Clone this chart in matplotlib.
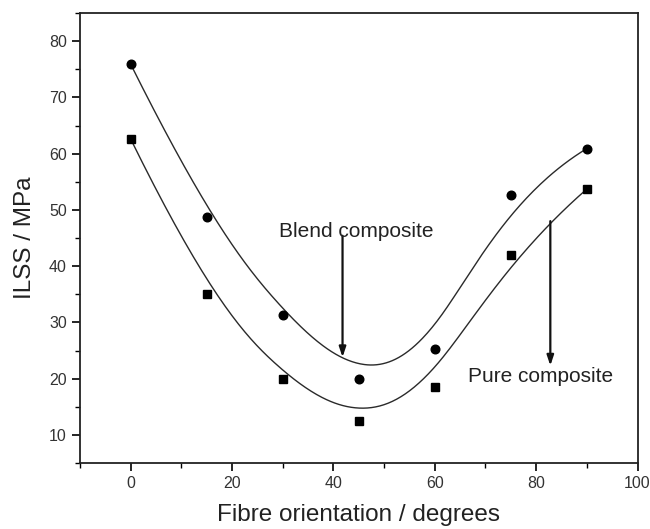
import numpy as np
import matplotlib
matplotlib.use("Agg")
import matplotlib.pyplot as plt
from matplotlib.ticker import MultipleLocator

# Data
angle = [0, 15, 30, 45, 60, 75, 90]
blend_ilss = [75.9, 48.8, 31.3, 19.9, 25.2, 52.7, 60.9]
pure_ilss = [62.6, 35.1, 20.0, 12.5, 18.6, 41.9, 53.7]


def bspline(xs, ys, n=300, k=3):
    """Clamped uniform B-spline using the data points as control points."""
    P = np.column_stack([xs, ys]).astype(float)
    m = len(P)
    inner = np.arange(1, m - k)
    knots = np.concatenate([np.zeros(k + 1), inner, np.full(k + 1, m - k)]).astype(float)
    ts = np.linspace(0, m - k, n)
    out = []
    for t in ts:
        if t >= knots[-1]:
            j = m - 1
        else:
            j = np.searchsorted(knots, t, side="right") - 1
        d = [P[j - k + i].copy() for i in range(k + 1)]
        for r in range(1, k + 1):
            for i in range(k, r - 1, -1):
                idx = j - k + i
                denom = knots[idx + k + 1 - r] - knots[idx]
                a = 0.0 if denom == 0 else (t - knots[idx]) / denom
                d[i] = (1 - a) * d[i - 1] + a * d[i]
        out.append(d[k])
    out = np.array(out)
    return out[:, 0], out[:, 1]


plt.rcParams['font.family'] = ['Liberation Sans', 'DejaVu Sans']
fig = plt.figure(figsize=(6.5, 5.29), dpi=100)
ax = fig.add_axes([80 / 650, 1 - 463 / 529, (637.5 - 80) / 650, (463 - 13) / 529])

bx, by = bspline(angle, blend_ilss)
px, py = bspline(angle, pure_ilss)
ax.plot(bx, by, color='#2a2a2a', lw=1.0)
ax.plot(px, py, color='#2a2a2a', lw=1.0)
ax.plot(angle, blend_ilss, 'o', color='black', ms=6.2)
ax.plot(angle, pure_ilss, 's', color='black', ms=5.2)

ax.set_xlim(-10, 100)
ax.set_ylim(5, 85)
ax.xaxis.set_major_locator(MultipleLocator(20))
ax.xaxis.set_minor_locator(MultipleLocator(10))
ax.yaxis.set_major_locator(MultipleLocator(10))
ax.yaxis.set_minor_locator(MultipleLocator(5))
ax.set_yticks(range(10, 81, 10))
ax.tick_params(which='major', direction='out', length=6, width=1.2, labelsize=11.5,
               labelcolor='#333333', pad=3.5)
ax.tick_params(which='minor', direction='out', length=3.5, width=1.0)
ax.tick_params(top=False, right=False, which='both')
for s in ax.spines.values():
    s.set_linewidth(1.3)
    s.set_color('#222222')

ax.set_xlabel('Fibre orientation / degrees', fontsize=17.5, color='#222222', labelpad=9)
ax.set_ylabel('ILSS / MPa', fontsize=17.5, color='#222222', labelpad=9)

arrow_kw = dict(arrowstyle='-|>,head_length=0.6,head_width=0.2', color='#111111', lw=1.6,
                shrinkA=0, shrinkB=0)
ax.annotate('', xy=(41.8, 23.8), xytext=(41.8, 45.4), arrowprops=arrow_kw)
ax.annotate('', xy=(82.8, 22.3), xytext=(82.8, 48.0), arrowprops=arrow_kw)
ax.text(29.2, 45.1, 'Blend composite', fontsize=15, color='#222222', va='baseline', ha='left')
ax.text(66.6, 19.4, 'Pure composite', fontsize=15, color='#222222', va='baseline', ha='left')

fig.savefig('out.png', dpi=100)
